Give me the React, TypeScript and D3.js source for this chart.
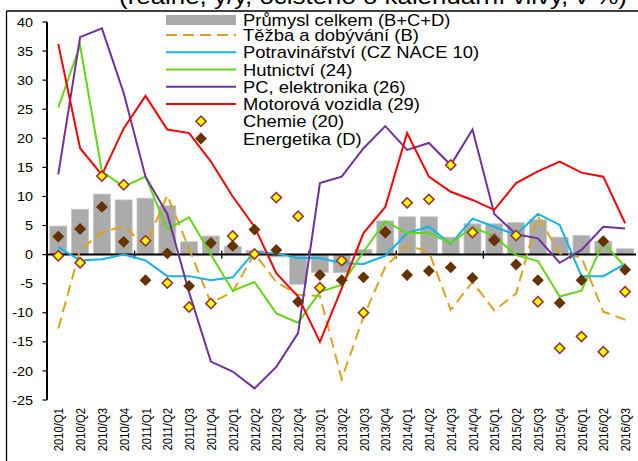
import React from 'react';
import * as d3 from 'd3';

// quarters on the x axis
const quarters = [
  '2010/Q1', '2010/Q2', '2010/Q3', '2010/Q4',
  '2011/Q1', '2011/Q2', '2011/Q3', '2011/Q4',
  '2012/Q1', '2012/Q2', '2012/Q3', '2012/Q4',
  '2013/Q1', '2013/Q2', '2013/Q3', '2013/Q4',
  '2014/Q1', '2014/Q2', '2014/Q3', '2014/Q4',
  '2015/Q1', '2015/Q2', '2015/Q3', '2015/Q4',
  '2016/Q1', '2016/Q2', '2016/Q3',
];

const yTicks = [-25, -20, -15, -10, -5, 0, 5, 10, 15, 20, 25, 30, 35, 40];

// Průmysl celkem (B+C+D) - bars
const prumysl = [4.9, 7.8, 10.4, 9.4, 9.7, 8.4, 2.2, 3.2, 1.4, 0.7, -0.4, -5.1, -3.1, -3.1, 0.9, 5.8, 6.5, 6.5, 3.0, 5.3, 5.3, 5.5, 6.0, 3.0, 3.3, 2.3, 1.0];
// Těžba a dobývání (B)
const tezba = [-12.7, 0.8, 3.8, 4.9, 1.5, 10.2, 1.0, -8.3, -6.4, 0.2, -4.7, -6.9, -7.1, -21.4, -10.7, -2.1, 1.6, 0.5, -9.5, -4.7, -9.6, -6.7, 6.6, 0.2, -0.5, -9.8, -11.2];
// Potravinářství (CZ NACE 10)
const potraviny = [1.3, -1.0, -0.8, 0.0, -1.0, -3.7, -3.7, -4.4, -3.9, 0.5, 0.2, -0.6, -0.6, -1.5, -1.6, -0.2, 3.7, 4.8, 1.8, 6.2, 4.8, 3.4, 7.0, 5.1, -3.7, -3.7, -1.6];
// Hutnictví (24)
const hutnictvi = [25.3, 36.0, 14.3, 11.7, 13.4, 4.4, 6.4, 0.0, -6.2, -4.7, -10.1, -11.7, -6.4, -5.2, 0.5, 5.7, 3.7, 3.7, 2.0, 4.7, 3.2, -0.1, -1.1, -7.2, -6.2, 2.1, -2.1];
// PC, elektronika (26)
const elektronika = [13.8, 37.4, 38.9, 27.8, 13.4, 7.0, -6.5, -18.4, -20.1, -23.0, -19.3, -13.5, 12.3, 13.4, 18.3, 22.1, 18.0, 19.2, 15.4, 21.5, 7.0, 3.5, 2.8, -1.4, 0.8, 4.8, 4.5];
// Motorová vozidla (29)
const vozidla = [36.2, 18.3, 13.7, 21.7, 27.3, 21.5, 20.9, 16.0, 10.0, 4.8, -3.2, -7.2, -15.0, -5.8, 3.7, 8.2, 20.9, 13.4, 10.8, 9.4, 7.7, 12.3, 14.3, 16.0, 14.1, 13.4, 5.4];
// Chemie (20) - markers
const chemie = [-0.2, -1.4, 13.5, 12.0, 2.4, -4.9, -9.0, -8.4, 3.2, 0.1, 9.8, 6.6, -5.7, -1.0, -10.0, 3.9, 8.9, 9.5, 15.4, 3.8, 2.6, 3.3, -8.1, -16.1, -14.1, -16.7, -6.4];
// Energetika (D) - markers
const energetika = [3.1, 4.4, 8.2, 2.2, -4.4, 0.2, -5.4, 2.0, 1.5, 4.3, 0.8, -8.1, -3.5, -4.4, -3.9, 3.8, -3.5, -2.8, -2.2, -4.0, 2.4, -1.7, -4.4, -8.3, -4.4, 2.3, -2.6];

const title = '(reálně, y/y, očištěno o kalendářní vlivy, v %)';

const lineSeries = [
  { name: 'Těžba  a dobývání (B)', values: tezba, color: '#E0A21A', dash: '11,6' },
  { name: 'Potravinářství (CZ NACE 10)', values: potraviny, color: '#12B4EE', dash: null },
  { name: 'Hutnictví (24)', values: hutnictvi, color: '#62D814', dash: null },
  { name: 'PC, elektronika (26)', values: elektronika, color: '#7030A0', dash: null },
  { name: 'Motorová vozidla (29)', values: vozidla, color: '#FF0000', dash: null },
];

const FONT = '"Liberation Sans", Arial, sans-serif';
const SX = 1.15; // the original is stretched horizontally

const T = ({ x, y, size, anchor = 'start', rotate = false, children }: any) => (
  <text
    transform={`translate(${x},${y}) scale(${SX},1)${rotate ? ' rotate(-90)' : ''}`}
    fontSize={size}
    fontFamily={FONT}
    textAnchor={anchor}
    fill="#000"
  >
    {children}
  </text>
);

export default function App() {
  const x = d3.scaleBand().domain(quarters).range([47.4, 636]).paddingInner(0.22).paddingOuter(0.11);
  const y = d3.scaleLinear().domain([-25, 40]).range([400, 22]);
  const cx = (i: number) => (x(quarters[i]) as number) + x.bandwidth() / 2;

  const line = d3.line<number>().x((d, i) => cx(i)).y(d => y(d));
  const chemSym = d3.symbol().type(d3.symbolSquare).size(52)()!;
  const enerSym = d3.symbol().type(d3.symbolSquare).size(70)()!;

  const step = x.step();
  const xTickIdx = d3.range(0, quarters.length + 1, 4);

  // legend rows
  const legX0 = 166, legX1 = 236, legText = 243;
  const rowY = (i: number) => (i === 0 ? 20 : 35 + (i - 1) * 17.25);

  return (
    <svg width={638} height={461} style={{ position: 'fixed', left: 0, top: 0, background: '#fff' }}>
      {/* frame */}
      <line x1={6.5} x2={638} y1={11} y2={11} stroke="#000" strokeWidth={1.3} />
      <line x1={6.5} x2={6.5} y1={11} y2={461} stroke="#000" strokeWidth={1.3} />

      {/* title, cut off at the top */}
      <T x={627} y={4} size={22.5} anchor="end">{title}</T>

      {/* bars */}
      {prumysl.map((v, i) => (
        <rect
          key={i}
          x={x(quarters[i])}
          width={x.bandwidth()}
          y={y(Math.max(0, v))}
          height={Math.abs(y(v) - y(0))}
          fill="#ABABAB"
          stroke="#C4C4C4"
          strokeWidth={0.8}
        />
      ))}

      {/* y axis */}
      <line x1={47} x2={47} y1={y(40)} y2={y(-25)} stroke="#000" strokeWidth={2} />
      {yTicks.map(t => (
        <g key={t}>
          <line x1={42.5} x2={47} y1={y(t)} y2={y(t)} stroke="#000" strokeWidth={1.2} />
          <T x={33} y={y(t) + 4.6} size={12.5} anchor="end">{t}</T>
        </g>
      ))}

      {/* zero axis */}
      <line x1={47} x2={636} y1={y(0)} y2={y(0)} stroke="#000" strokeWidth={2} />
      {xTickIdx.map(k => (
        <line key={k} x1={47.4 + k * step} x2={47.4 + k * step} y1={y(0) - 4} y2={y(0) + 4} stroke="#000" strokeWidth={1.3} />
      ))}

      {/* x labels */}
      {quarters.map((q, i) => (
        <T key={q} x={cx(i) + 5} y={408} size={11.3} anchor="end" rotate>{q}</T>
      ))}

      {/* lines */}
      {lineSeries.map(s => (
        <path
          key={s.name}
          d={line(s.values)!}
          fill="none"
          stroke={s.color}
          strokeWidth={2}
          strokeDasharray={s.dash || undefined}
        />
      ))}

      {/* markers */}
      {chemie.map((v, i) => (
        <path key={'c' + i} d={chemSym} transform={`translate(${cx(i)},${y(v)}) rotate(45)`} fill="#FFFF00" stroke="#993333" strokeWidth={1.6} />
      ))}
      {energetika.map((v, i) => (
        <path key={'e' + i} d={enerSym} transform={`translate(${cx(i)},${y(v)}) rotate(45)`} fill="#663300" />
      ))}

      {/* legend */}
      <g>
        <rect x={legX0} y={rowY(0) - 5} width={legX1 - legX0} height={10} fill="#ABABAB" />
        <T x={legText} y={rowY(0) + 6} size={16}>Průmysl celkem (B+C+D)</T>
        {lineSeries.map((s, k) => (
          <g key={s.name}>
            <line x1={legX0} x2={legX1} y1={rowY(k + 1)} y2={rowY(k + 1)} stroke={s.color} strokeWidth={2} strokeDasharray={s.dash || undefined} />
            <T x={legText} y={rowY(k + 1) + 6} size={16}>{s.name}</T>
          </g>
        ))}
        <path d={chemSym} transform={`translate(${(legX0 + legX1) / 2},${rowY(6)}) rotate(45)`} fill="#FFFF00" stroke="#993333" strokeWidth={1.6} />
        <T x={legText} y={rowY(6) + 6} size={16}>Chemie (20)</T>
        <path d={enerSym} transform={`translate(${(legX0 + legX1) / 2},${rowY(7)}) rotate(45)`} fill="#663300" />
        <T x={legText} y={rowY(7) + 6} size={16}>Energetika (D)</T>
      </g>
    </svg>
  );
}
